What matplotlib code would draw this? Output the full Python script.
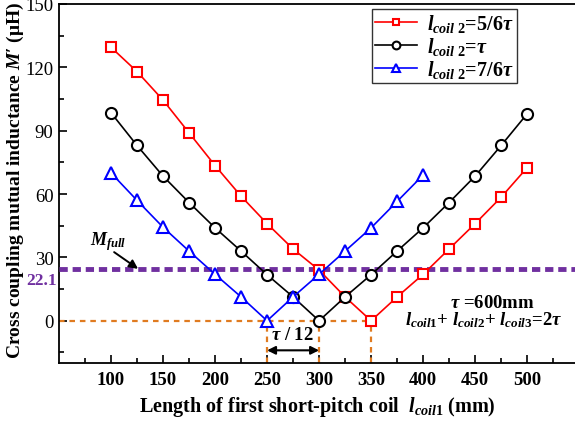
import matplotlib
matplotlib.use("Agg")
import matplotlib.pyplot as plt
import numpy as np

plt.rcParams['font.family'] = ['Liberation Serif', 'DejaVu Serif']
plt.rcParams['mathtext.fontset'] = 'custom'
plt.rcParams['mathtext.rm'] = 'Liberation Serif:bold'
plt.rcParams['mathtext.it'] = 'Liberation Serif:italic:bold'
plt.rcParams['mathtext.bf'] = 'Liberation Serif:bold'

# Data
x_full = [100, 125, 150, 175, 200, 225, 250, 275, 300, 325, 350, 375, 400, 425, 450, 475, 500]
m_56 = [129.5, 118, 104.5, 89, 73.5, 59, 46, 34, 24, 11.3, 0, 11.3, 22, 34, 46, 58.5, 72.5]
m_1 = [98.5, 83, 68.5, 56, 44, 33, 21.8, 11.3, 0, 11.3, 21.8, 33, 44, 56, 68.5, 83, 98]
x_76 = [100, 125, 150, 175, 200, 225, 250, 275, 300, 325, 350, 375, 400]
m_76 = [70, 57, 44.3, 33, 22, 11.3, 0, 11.3, 22, 33, 44, 56.5, 69]
m_full_line = 24.3
m_full_label = "22.1"
zero_marks = [250, 300, 350]
x_ticks = [100, 150, 200, 250, 300, 350, 400, 450, 500]
y_ticks = [0, 30, 60, 90, 120, 150]

fig = plt.figure(figsize=(5.75, 4.27), dpi=100)
ax = fig.add_axes([59/575, 1-364/427, 1-59/575, 359/427])

ax.plot(x_full, m_56, color='red', marker='s', mfc='white', mec='red', ms=7, mew=1.5, lw=1.2,
        label=r'$l_{coil\ 2}$=5/6$\tau$', zorder=4)
ax.plot(x_full, m_1, color='black', marker='o', mfc='white', mec='black', ms=8, mew=1.5, lw=1.2,
        label=r'$l_{coil\ 2}$=$\tau$', zorder=4)
ax.plot(x_76, m_76, color='blue', marker='^', mfc='white', mec='blue', ms=8.5, mew=1.5, lw=1.2,
        label=r'$l_{coil\ 2}$=7/6$\tau$', zorder=4)

orange = '#E07B20'
ax.plot([50, zero_marks[-1]], [0, 0], color=orange, lw=1.6, ls=(0, (2.5, 2.2)), zorder=2)
for xv in zero_marks:
    ax.plot([xv, xv], [-20, 0], color=orange, lw=1.6, ls=(0, (2.5, 2.2)), zorder=2)

ax.axhline(m_full_line, color='#7030A0', lw=3.5, ls=(0, (1.7, 1.0)), zorder=3)
ax.text(47.5, 19.5, m_full_label, color='#7030A0', fontsize=12.5, fontweight='bold',
        ha='right', va='center', clip_on=False)
ax.text(97, 38, r'$M_{full}$', fontsize=13, ha='center', va='center')
ax.annotate('', xy=(126, m_full_line + 0.3), xytext=(103, 32.5),
            arrowprops=dict(arrowstyle='-|>', color='black', lw=1.4, mutation_scale=13,
                            shrinkA=0, shrinkB=0))

ax.annotate('', xy=(250, -14), xytext=(300, -14),
            arrowprops=dict(arrowstyle='<|-|>', color='black', lw=1.5, mutation_scale=12,
                            shrinkA=0, shrinkB=0))
ax.text(274, -6.5, r'$\tau$ / 12', fontsize=13.5, ha='center', va='center', fontweight='bold')

ax.text(467, 8.8, r'$\tau$ =600mm', fontsize=13.5, ha='center', va='center', fontweight='bold')
ax.text(458, 0.8, r'$l_{coil1}$+ $l_{coil2}$+ $l_{coil3}$=2$\tau$', fontsize=13.5, ha='center',
        va='center', fontweight='bold')

ax.set_xlim(50, 546)
ax.set_ylim(-20, 150)
ax.set_xticks(x_ticks)
ax.set_yticks(y_ticks)
ax.set_xticks(np.arange(75, 546, 50), minor=True)
ax.set_yticks([-15, 15, 45, 75, 105, 135], minor=True)
ax.tick_params(which='both', direction='in', width=1.2)
ax.tick_params(which='major', length=6)
ax.tick_params(which='minor', length=3.5)
ax.tick_params(axis='y', labelsize=13.5, pad=4)
ax.tick_params(axis='x', labelsize=13.5, pad=6)
for lab in ax.get_xticklabels():
    lab.set_fontweight('bold')
for s in ['left', 'bottom', 'top']:
    ax.spines[s].set_linewidth(1.3)
ax.spines['right'].set_visible(False)

ax.set_xlabel(r'Length of first short-pitch coil  $l_{coil1}$ (mm)', fontsize=14.5,
              fontweight='bold', labelpad=4)
ax.set_ylabel(r"Cross coupling mutual inductance $M$′ (μH)", fontsize=14,
              fontweight='bold', va='center')
ax.yaxis.set_label_coords(-0.084, 0.513)

leg = ax.legend(loc='upper right', bbox_to_anchor=(517/575, 1-10/427),
                bbox_transform=fig.transFigure, fontsize=14.5,
                frameon=True, fancybox=False, handlelength=2.1, borderpad=0.15,
                labelspacing=0.05, handletextpad=0.5, borderaxespad=0, markerscale=0.7)
leg.get_frame().set_edgecolor('black')
leg.get_frame().set_linewidth(1.0)
for t in leg.get_texts():
    t.set_fontweight('bold')

fig.savefig('out.png', dpi=100)
